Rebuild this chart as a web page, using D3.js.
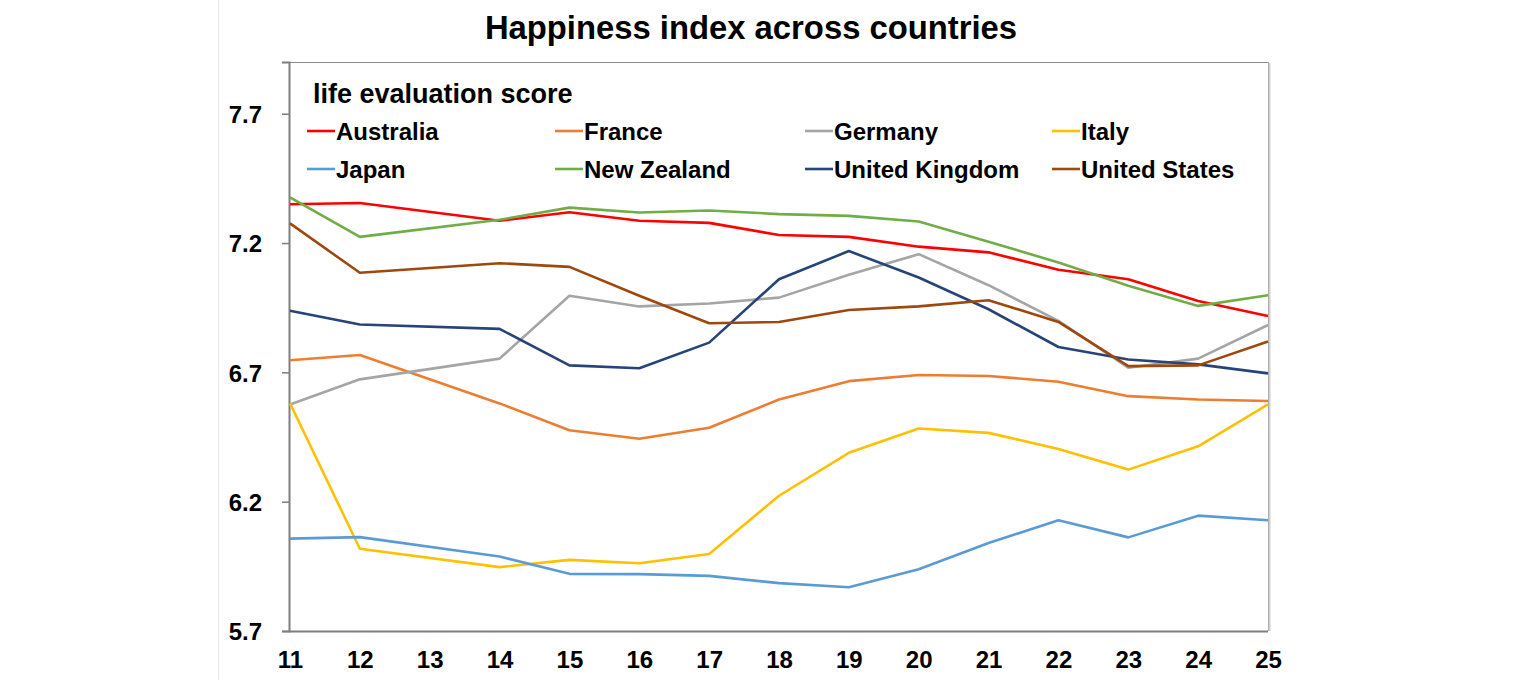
<!DOCTYPE html>
<html lang="en">
<head>
    <meta charset="UTF-8">
    <title>Happiness index across countries</title>
    <script src="https://d3js.org/d3.v7.min.js"></script>
    <style>
        body { margin: 0; background: #fff; }
        svg { display: block; font-family: "Liberation Sans", Arial, sans-serif; }
    </style>
</head>
<body>
<script>
// tick labels on the x axis (year of report, 2011 - 2025)
const xLabels = ['11','12','13','14','15','16','17','18','19','20','21','22','23','24','25'];
// years that actually have a data point (no 2013 report)
const years = ['11','12','14','15','16','17','18','19','20','21','22','23','24','25'];

const countries = ['Australia','France','Germany','Italy','Japan','New Zealand','United Kingdom','United States'];
const colors = ['#ff0000','#ed7d31','#a5a5a5','#ffc000','#5b9bd5','#70ad47','#264478','#9e480e'];

const australia    = [7.35,7.355,7.286,7.319,7.286,7.278,7.231,7.224,7.186,7.164,7.097,7.060,6.976,6.918];
const france       = [6.747,6.767,6.580,6.476,6.443,6.486,6.595,6.666,6.690,6.686,6.664,6.608,6.595,6.589];
const germany      = [6.576,6.673,6.753,6.996,6.955,6.966,6.989,7.077,7.157,7.037,6.899,6.718,6.753,6.883];
const italy        = [6.580,6.018,5.947,5.975,5.962,5.998,6.223,6.389,6.483,6.466,6.404,6.324,6.414,6.576];
const japan        = [6.057,6.063,5.988,5.921,5.920,5.913,5.885,5.869,5.939,6.040,6.128,6.062,6.146,6.128];
const newZealand   = [7.377,7.224,7.290,7.337,7.318,7.326,7.312,7.305,7.283,7.205,7.125,7.035,6.957,6.998];
const unitedKingdom= [6.938,6.885,6.868,6.727,6.716,6.815,7.060,7.169,7.067,6.944,6.798,6.750,6.731,6.696];
const unitedStates = [7.276,7.085,7.122,7.108,6.996,6.890,6.895,6.941,6.955,6.979,6.895,6.724,6.727,6.819];

const yTicks = [5.7, 6.2, 6.7, 7.2, 7.7];

const series = [australia, france, germany, italy, japan, newZealand, unitedKingdom, unitedStates];

const width = 1536, height = 680;
const plot = { left: 289, right: 1268, top: 62, bottom: 631 };

const svg = d3.select('body').append('svg')
    .attr('width', width)
    .attr('height', height);

svg.append('rect').attr('width', width).attr('height', height).attr('fill', '#fff');

// faint edge on the left of the picture
svg.append('line')
    .attr('x1', 218.5).attr('x2', 218.5).attr('y1', 0).attr('y2', height)
    .attr('stroke', '#e6e6e6').attr('stroke-width', 1);

const x = d3.scalePoint().domain(xLabels).range([plot.left + 1, plot.right]);
const y = d3.scaleLinear().domain([5.7, 7.9]).range([plot.bottom, plot.top]);

// title
svg.append('text')
    .attr('x', 751).attr('y', 39)
    .attr('text-anchor', 'middle')
    .style('font-size', '32.8px').style('font-weight', 'bold')
    .text('Happiness index across countries');

// plot frame (top + right)
svg.append('path')
    .attr('d', `M${plot.left},${plot.top + 0.5}H${plot.right + 0.5}V${plot.bottom}`)
    .attr('fill', 'none').attr('stroke', '#8c8c8c').attr('stroke-width', 1);
svg.append('line')
    .attr('x1', plot.right + 1.5).attr('x2', plot.right + 1.5)
    .attr('y1', plot.top + 1).attr('y2', plot.bottom)
    .attr('stroke', '#d0d0d0').attr('stroke-width', 2);

// y axis
const yAxis = svg.append('g')
    .attr('transform', `translate(${plot.left},0)`)
    .call(d3.axisLeft(y).tickValues(yTicks).tickFormat(d3.format('.1f')).tickSize(7).tickPadding(20));
yAxis.select('.domain').attr('stroke', '#7f7f7f').attr('stroke-width', 2);
yAxis.selectAll('.tick line').attr('stroke', '#7f7f7f').attr('stroke-width', 1.5);
yAxis.selectAll('.tick text')
    .style('font-size', '24px').style('font-weight', 'bold')
    .style('font-family', '"Liberation Sans", Arial, sans-serif')
    .attr('fill', '#000').attr('dy', '0.36em');

// x axis
const xAxis = svg.append('g')
    .attr('transform', `translate(0,${plot.bottom})`)
    .call(d3.axisBottom(x).tickSize(0).tickPadding(20));
xAxis.select('.domain')
    .attr('d', `M${plot.left},0.5H${plot.right}`)
    .attr('stroke', '#7f7f7f').attr('stroke-width', 2);
xAxis.selectAll('.tick text')
    .style('font-size', '24px').style('font-weight', 'bold')
    .style('font-family', '"Liberation Sans", Arial, sans-serif')
    .attr('fill', '#000');

// lines
const line = d3.line()
    .x((d, i) => x(years[i]))
    .y(d => y(d));

svg.append('clipPath').attr('id', 'clip')
    .append('rect')
    .attr('x', plot.left).attr('y', plot.top)
    .attr('width', plot.right - plot.left + 1).attr('height', plot.bottom - plot.top);

svg.append('g').attr('clip-path', 'url(#clip)')
    .selectAll('path')
    .data(series)
    .join('path')
    .attr('d', line)
    .attr('fill', 'none')
    .attr('stroke', (d, i) => colors[i])
    .attr('stroke-width', 2.6)
    .attr('stroke-linejoin', 'round');

// legend
svg.append('text')
    .attr('x', 313).attr('y', 103)
    .style('font-size', '27px').style('font-weight', 'bold')
    .text('life evaluation score');

const legCols = [307, 555, 805, 1052];
const legRows = [131, 169];
const legend = svg.append('g').selectAll('g')
    .data(countries)
    .join('g')
    .attr('transform', (d, i) => `translate(${legCols[i % 4]},${legRows[Math.floor(i / 4)]})`);
legend.append('line')
    .attr('x1', 0).attr('x2', 28)
    .attr('stroke', (d, i) => colors[i]).attr('stroke-width', 2.6);
legend.append('text')
    .attr('x', 29).attr('dy', '0.36em')
    .style('font-size', '24px').style('font-weight', 'bold')
    .text(d => d);
</script>
</body>
</html>
